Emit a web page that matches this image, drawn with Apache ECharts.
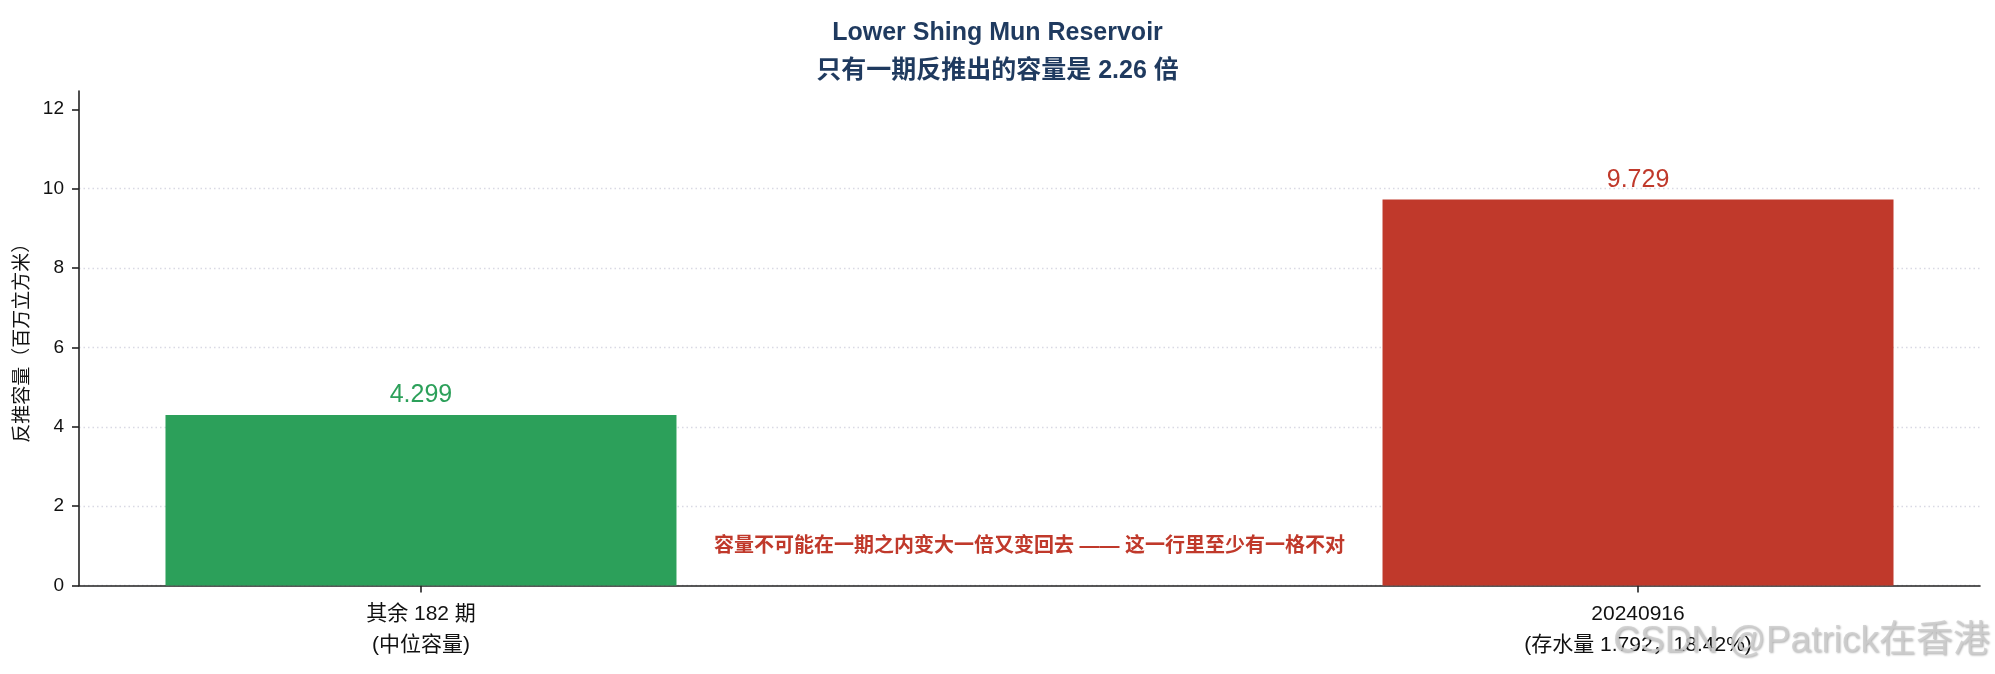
<!DOCTYPE html>
<html>
<head>
<meta charset="utf-8">
<script src="https://cdn.jsdelivr.net/npm/echarts@6/dist/echarts.min.js"></script>
<style>
html,body{margin:0;padding:0;background:#fff;}
#chart{width:1995px;height:674px;}
</style>
</head>
<body>
<div id="chart"></div>
<script>
const categories = ['其余 182 期\n(中位容量)', '20240916\n(存水量 1.792，18.42%)'];
const categoryPos = [0, 1];
const capacities = [4.299, 9.729];
const barColors = ['#2ca05a', '#c0392b'];
const yTicks = [0, 2, 4, 6, 8, 10, 12];
const titleText = 'Lower Shing Mun Reservoir\n只有一期反推出的容量是 2.26 倍';
const yName = '反推容量（百万立方米）';
const noteText = '容量不可能在一期之内变大一倍又变回去 —— 这一行里至少有一格不对';
const notePos = [0.5, 0.98];
const watermark = 'CSDN @Patrick在香港';

const FONT = '"Liberation Sans", "Noto Sans CJK SC", sans-serif';
const chart = echarts.init(document.getElementById('chart'), null, {renderer: 'canvas'});

const option = {
  backgroundColor: '#ffffff',
  animation: false,
  textStyle: {fontFamily: FONT},
  title: {
    text: titleText,
    left: 'center',
    top: 14,
    padding: 0,
    textStyle: {fontFamily: FONT, fontSize: 25, fontWeight: 'bold', color: '#1f3a5f', lineHeight: 38, align: 'center'}
  },
  grid: {left: 79, right: 15, top: 91, bottom: 88.5, containLabel: false},
  xAxis: {
    type: 'value',
    min: -0.281,
    max: 1.281,
    splitLine: {show: false},
    axisLine: {show: true, onZero: false, lineStyle: {color: '#222', width: 1.6}},
    axisTick: {show: true, inside: false, length: 7, customValues: categoryPos, lineStyle: {color: '#222', width: 1.6}},
    axisLabel: {
      customValues: categoryPos,
      formatter: v => categories[Math.round(v)],
      fontFamily: FONT, fontSize: 21, color: '#111', lineHeight: 31, margin: 13, align: 'center'
    }
  },
  yAxis: {
    type: 'value',
    min: 0,
    max: 12.46,
    interval: 2,
    name: yName,
    nameLocation: 'middle',
    nameGap: 45,
    nameTextStyle: {fontFamily: FONT, fontSize: 19, color: '#111'},
    axisLine: {show: true, onZero: false, lineStyle: {color: '#222', width: 1.6}},
    axisTick: {show: true, inside: false, length: 7, customValues: yTicks, lineStyle: {color: '#222', width: 1.6}},
    axisLabel: {customValues: yTicks, fontFamily: FONT, fontSize: 19, color: '#111', margin: 15},
    splitLine: {show: true, showMaxLine: false, lineStyle: {color: '#d9d9e4', width: 1.3, type: [1.5, 3]}}
  },
  series: [{
    type: 'bar',
    barWidth: 511,
    z: 3,
    data: categoryPos.map((p, i) => ({
      value: [p, capacities[i]],
      itemStyle: {color: barColors[i]},
      label: {color: barColors[i]}
    })),
    label: {
      show: true,
      position: 'top',
      distance: 7,
      fontFamily: FONT,
      fontSize: 25,
      formatter: p => p.value[1].toFixed(3)
    }
  }]
};
chart.setOption(option);

const np = chart.convertToPixel({gridIndex: 0}, notePos);
chart.setOption({
  graphic: [{
    type: 'text',
    x: np[0], y: np[1],
    z: 10,
    style: {text: noteText, fill: '#c0392b', font: 'bold 20px ' + FONT, align: 'center', verticalAlign: 'middle'}
  }, {
    type: 'text',
    right: 5, bottom: 14,
    z: 20,
    style: {
      text: watermark, fill: 'rgba(205,205,205,0.85)', font: '37px ' + FONT,
      textShadowColor: 'rgba(0,0,0,0.35)', textShadowBlur: 2, textShadowOffsetX: 1, textShadowOffsetY: 1
    }
  }]
});
</script>
</body>
</html>
